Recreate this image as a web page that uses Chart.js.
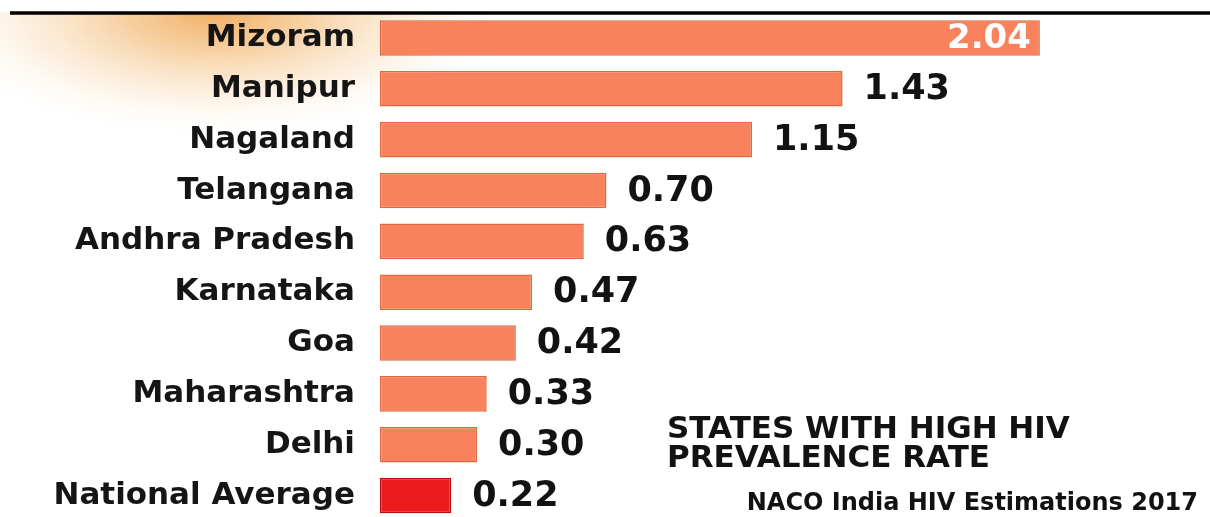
<!DOCTYPE html>
<html><head><meta charset="utf-8">
<script src="https://cdn.jsdelivr.net/npm/chart.js@4/dist/chart.umd.min.js"></script>
<style>
html,body{margin:0;padding:0;background:#fff;overflow:hidden;width:1210px;height:517px}
#wrap{position:relative;width:1210px;height:521px}
</style>
</head><body><div id="wrap"><canvas id="c"></canvas></div>
<script>
const categories = ['Mizoram','Manipur','Nagaland','Telangana','Andhra Pradesh','Karnataka','Goa','Maharashtra','Delhi','National Average'];
const values = [2.04, 1.43, 1.15, 0.70, 0.63, 0.47, 0.42, 0.33, 0.30, 0.22];
const valueLabels = ['2.04','1.43','1.15','0.70','0.63','0.47','0.42','0.33','0.30','0.22'];
const titleLines = ['STATES WITH HIGH HIV','PREVALENCE RATE'];
const sourceText = 'NACO India HIV Estimations 2017';

const barFill = values.map((v,i)=> i === values.length-1 ? '#EC1B1E' : '#F8825B');
const barBorder = values.map((v,i)=> i === values.length-1 ? '#B8100F' : '#E0683F');

const decor = {
  id:'decor',
  beforeDraw(chart){
    const ctx = chart.ctx;
    ctx.save();
    // soft orange glow in the top-left corner
    ctx.translate(215, 12);
    ctx.scale(1, 0.42);
    const g = ctx.createRadialGradient(0,0,0,0,0,300);
    g.addColorStop(0,'rgba(238,160,70,0.85)');
    g.addColorStop(0.3,'rgba(242,182,110,0.65)');
    g.addColorStop(0.65,'rgba(249,215,172,0.38)');
    g.addColorStop(1,'rgba(255,255,255,0)');
    ctx.fillStyle = g;
    ctx.fillRect(-310,0,620,330);
    ctx.restore();
    ctx.save();
    ctx.fillStyle = '#fff';
    ctx.fillRect(0,0,1210,12);
    ctx.strokeStyle = '#000';
    ctx.lineWidth = 3.5;
    ctx.beginPath();
    ctx.moveTo(10,13);
    ctx.lineTo(1210,13);
    ctx.stroke();
    ctx.restore();
  },
  afterDatasetsDraw(chart){
    const ctx = chart.ctx;
    const meta = chart.getDatasetMeta(0);
    const xs = chart.scales.x;
    ctx.save();
    ctx.textBaseline = 'middle';
    meta.data.forEach((bar,i)=>{
      const px = xs.getPixelForValue(values[i]);
      if (i === 0) {
        ctx.font = 'bold 34px "DejaVu Sans"';
        ctx.fillStyle = '#fff';
        ctx.textAlign = 'right';
        ctx.fillText(valueLabels[i], px - 9, bar.y + 1);
      } else {
        ctx.font = 'bold 35px "DejaVu Sans"';
        ctx.fillStyle = '#121212';
        ctx.textAlign = 'left';
        ctx.fillText(valueLabels[i], px + 21, bar.y + 1);
      }
    });
    ctx.fillStyle = '#121212';
    ctx.textAlign = 'left';
    ctx.font = 'bold 31px "DejaVu Sans"';
    ctx.fillText(titleLines[0], 667, 430);
    ctx.fillText(titleLines[1], 667, 459);
    ctx.font = 'bold 24px "DejaVu Sans"';
    ctx.textAlign = 'right';
    ctx.fillText(sourceText, 1198, 504);
    ctx.restore();
  }
};

new Chart(document.getElementById('c'), {
  type:'bar',
  data:{
    labels: categories,
    datasets:[{
      data: values,
      backgroundColor: barFill,
      borderColor: barBorder,
      borderWidth: 1.5,
      borderSkipped: false,
      categoryPercentage: 1,
      barPercentage: 0.7
    }]
  },
  options:{
    indexAxis:'y',
    responsive:true,
    maintainAspectRatio:false,
    animation:false,
    devicePixelRatio:1,
    layout:{padding:{top:12.5,left:0,right:0,bottom:0}},
    plugins:{legend:{display:false},tooltip:{enabled:false},title:{display:false}},
    scales:{
      x:{display:false,min:0,max:2.566},
      y:{
        afterFit(scale){ scale.width = 380; scale.paddingTop = 0; scale.paddingBottom = 0; },
        grid:{display:false,drawTicks:false},
        border:{display:false},
        ticks:{padding:25,color:'#151515',font:{family:'"DejaVu Sans"',weight:'bold',size:31}}
      }
    }
  },
  plugins:[decor]
});
</script>
</body></html>
